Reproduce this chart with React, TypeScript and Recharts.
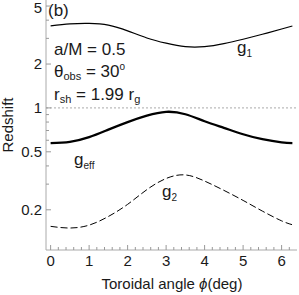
import React from 'react';
import { LineChart, Line, XAxis, YAxis, ReferenceLine } from 'recharts';

const phi = [0, 0.5, 1, 1.5, 2, 2.5, 3, 3.5, 4, 4.5, 5, 5.5, 6, 6.28];
const g1 = [3.65, 3.77, 3.8, 3.7, 3.38, 3.02, 2.78, 2.63, 2.63, 2.76, 2.96, 3.2, 3.48, 3.65];
const gEff = [0.573, 0.585, 0.63, 0.71, 0.8, 0.885, 0.94, 0.905, 0.81, 0.73, 0.66, 0.61, 0.58, 0.573];
const g2 = [0.154, 0.15, 0.157, 0.18, 0.218, 0.275, 0.328, 0.347, 0.315, 0.272, 0.232, 0.196, 0.168, 0.158];

const xTicks = [0, 0.2, 0.4, 0.6, 0.8, 1, 1.2, 1.4, 1.6, 1.8, 2, 2.2, 2.4, 2.6, 2.8, 3, 3.2, 3.4, 3.6, 3.8, 4, 4.2, 4.4, 4.6, 4.8, 5, 5.2, 5.4, 5.6, 5.8, 6, 6.2];
const yTicks = [0.2, 0.3, 0.4, 0.5, 0.6, 0.7, 0.8, 0.9, 1, 2, 3, 4, 5];
const yLabeled = [0.2, 0.5, 1, 2, 5];

const rows = phi.map((p, i) => ({ phi: p, g1: g1[i], gEff: gEff[i], g2: g2[i] }));

const FONT = '"Liberation Sans", Arial, sans-serif';
const TXT = '#1a1a1a';
const FRAME = '#aaaaaa';
const TICK = '#999999';

const isInt = (v: number) => Math.abs(v - Math.round(v)) < 1e-6;

const BottomTick = (props: any) => {
  const { x, y, payload } = props;
  const v = payload.value;
  const major = isInt(v);
  return (
    <g>
      <line x1={x} x2={x} y1={y} y2={y - (major ? 5 : 3)} stroke={TICK} strokeWidth={1} />
      {major && (
        <text x={x} y={y + 16} textAnchor="middle" fontSize={15} fontFamily={FONT} fill={TXT}>
          {String(v)}
        </text>
      )}
    </g>
  );
};

const TopTick = (props: any) => {
  const { x, y, payload } = props;
  const major = isInt(payload.value);
  return <line x1={x} x2={x} y1={y} y2={y + (major ? 5 : 3)} stroke={TICK} strokeWidth={1} />;
};

const LeftTick = (props: any) => {
  const { x, y, payload } = props;
  const v = payload.value;
  const major = yLabeled.includes(v);
  return (
    <g>
      <line x1={x} x2={x + (major ? 5 : 3)} y1={y} y2={y} stroke={TICK} strokeWidth={1} />
      {major && (
        <text x={x - 4} y={Math.max(y + 5, 12.5)} textAnchor="end" fontSize={15} fontFamily={FONT} fill={TXT}>
          {String(v)}
        </text>
      )}
    </g>
  );
};

const RightTick = (props: any) => {
  const { x, y, payload } = props;
  const major = yLabeled.includes(payload.value);
  return <line x1={x} x2={x - (major ? 5 : 3)} y1={y} y2={y} stroke={TICK} strokeWidth={1} />;
};

export default function App() {
  return (
    <div style={{ position: 'absolute', left: 0, top: 0, background: '#fff' }}>
      <LineChart width={299} height={295} data={rows} margin={{ top: 0, right: 2, left: 0, bottom: 0 }}>
        <XAxis
          xAxisId="b"
          dataKey="phi"
          type="number"
          domain={[-0.12, 6.4]}
          allowDataOverflow
          ticks={xTicks}
          interval={0}
          tick={BottomTick}
          tickLine={false}
          tickSize={0}
          tickMargin={0}
          axisLine={{ stroke: FRAME }}
          height={45}
        />
        <XAxis
          xAxisId="t"
          orientation="top"
          dataKey="phi"
          type="number"
          domain={[-0.12, 6.4]}
          allowDataOverflow
          ticks={xTicks}
          interval={0}
          tick={TopTick}
          tickLine={false}
          tickSize={0}
          tickMargin={0}
          axisLine={{ stroke: FRAME }}
          height={0}
        />
        <YAxis
          yAxisId="l"
          type="number"
          scale="log"
          domain={[0.106, 5.5]}
          allowDataOverflow
          ticks={yTicks}
          interval={0}
          tick={LeftTick}
          tickLine={false}
          tickSize={0}
          tickMargin={0}
          axisLine={{ stroke: FRAME }}
          width={46}
        />
        <YAxis
          yAxisId="r"
          orientation="right"
          type="number"
          scale="log"
          domain={[0.106, 5.5]}
          allowDataOverflow
          ticks={yTicks}
          interval={0}
          tick={RightTick}
          tickLine={false}
          tickSize={0}
          tickMargin={0}
          axisLine={{ stroke: FRAME }}
          width={0}
        />
        <ReferenceLine xAxisId="b" yAxisId="l" y={1} stroke="#aaaaaa" strokeDasharray="2 2" strokeWidth={1} />
        <Line xAxisId="b" yAxisId="l" dataKey="g1" type="natural" stroke="#000" strokeWidth={1.2} dot={false} isAnimationActive={false} />
        <Line xAxisId="b" yAxisId="l" dataKey="gEff" type="natural" stroke="#000" strokeWidth={2.3} dot={false} isAnimationActive={false} />
        <Line xAxisId="b" yAxisId="l" dataKey="g2" type="natural" stroke="#000" strokeWidth={1} strokeDasharray="7 3" dot={false} isAnimationActive={false} />
        <g fontFamily={FONT} fill={TXT}>
          <text x={48} y={16} fontSize={17}>(b)</text>
          <text x={54} y={55} fontSize={17}>a/M = 0.5</text>
          <text x={54} y={77} fontSize={17}>
            θ<tspan fontSize={11} dy={3}>obs</tspan>
            <tspan dy={-3}> = 30</tspan>
            <tspan fontSize={10} dy={-7}>o</tspan>
          </text>
          <text x={54} y={100} fontSize={17}>
            r<tspan fontSize={11} dy={3}>sh</tspan>
            <tspan dy={-3}> = 1.99 r</tspan>
            <tspan fontSize={11} dy={3}>g</tspan>
          </text>
          <text x={237} y={53} fontSize={17}>
            g<tspan fontSize={10} dy={4}>1</tspan>
          </text>
          <text x={74} y={165} fontSize={17}>
            g<tspan fontSize={10} dy={4}>eff</tspan>
          </text>
          <text x={162} y={197} fontSize={17}>
            g<tspan fontSize={10} dy={4}>2</tspan>
          </text>
          <text x={172} y={289} fontSize={15} textAnchor="middle">
            Toroidal angle <tspan fontStyle="italic">ϕ</tspan>(deg)
          </text>
          <text x={13} y={125} fontSize={15} textAnchor="middle" transform="rotate(-90 13 125)">
            Redshift
          </text>
        </g>
      </LineChart>
    </div>
  );
}
